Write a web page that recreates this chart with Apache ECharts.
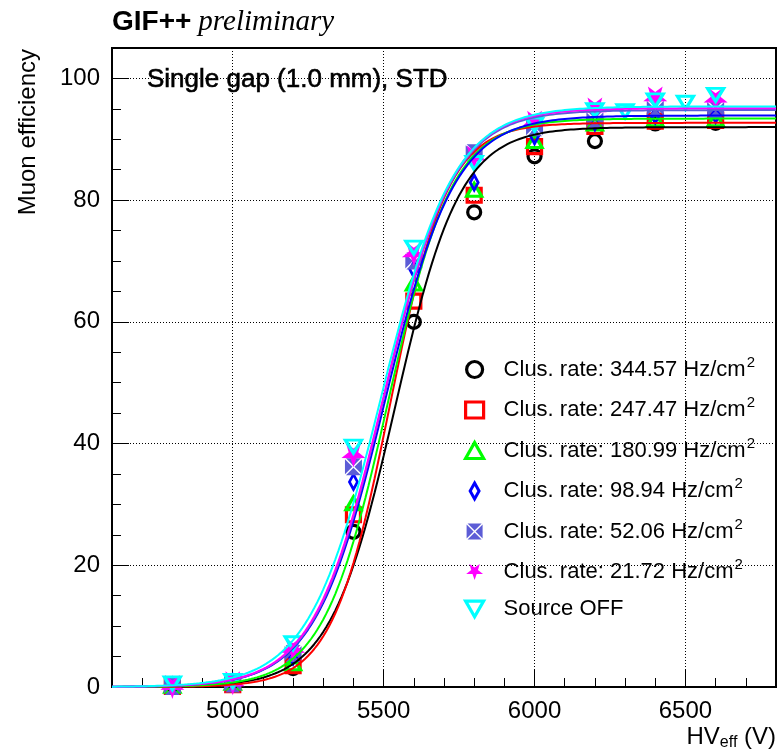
<!DOCTYPE html>
<html>
<head>
<meta charset="utf-8">
<script src="https://cdn.jsdelivr.net/npm/echarts@6/dist/echarts.min.js"></script>
<style>
  html, body { margin: 0; padding: 0; background: #fff; }
  #chart { width: 779px; height: 753px; }
</style>
</head>
<body>
<div id="chart"></div>
<script>
// HV points (V)
var hv = [4800, 5000, 5200, 5400, 5600, 5800, 6000, 6200, 6400, 6600];
var hvOff = [4800, 5000, 5200, 5400, 5600, 5800, 6000, 6200, 6300, 6400, 6500, 6600];

// muon efficiency (%)
var eff344 = [0.1, 0.6, 3.1, 25.5, 60.0, 78.0, 87.2, 89.7, 92.6, 92.7];
var eff247 = [0.1, 0.4, 3.5, 28.3, 63.4, 80.8, 88.8, 92.1, 93.0, 93.1];
var eff181 = [0.2, 0.7, 3.9, 30.2, 66.3, 81.7, 89.7, 92.6, 93.3, 93.3];
var eff99  = [0.2, 0.8, 5.0, 33.7, 68.6, 82.9, 90.5, 92.8, 93.9, 94.0];
var eff52  = [0.1, 0.5, 5.5, 36.2, 70.0, 87.8, 91.9, 93.2, 95.1, 94.9];
var eff22  = [0.0, 0.6, 6.1, 38.1, 71.1, 87.0, 92.7, 94.9, 96.7, 96.5];
var effOff = [0.6, 1.0, 7.2, 39.5, 72.2, 86.1, 92.4, 94.8, 94.6, 96.4, 96.0, 97.3];

var names = ['Clus. rate: 344.57 Hz/cm\u00b2', 'Clus. rate: 247.47 Hz/cm\u00b2',
  'Clus. rate: 180.99 Hz/cm\u00b2', 'Clus. rate: 98.94 Hz/cm\u00b2',
  'Clus. rate: 52.06 Hz/cm\u00b2', 'Clus. rate: 21.72 Hz/cm\u00b2', 'Source OFF'];

// sigmoid fit parameters: Emax / (1 + exp(-lambda (HV - HV50)))
var fitEmax   = [92.0, 92.7, 93.4, 93.9, 94.8, 95.1, 95.4];
var fitHV50   = [5538, 5521, 5514, 5504, 5500, 5499, 5492];
var fitLambda = [0.0093, 0.01047, 0.00936, 0.00861, 0.00869, 0.00863, 0.00833];

var colors = ['#000000', '#ff0000', '#00ff00', '#0000ff', '#5c5cd6', '#ff00ff', '#00ffff'];

var starPath = 'path://M10,20 L7.65,13.24 L0.49,13.09 L6.2,8.76 L4.12,1.91 L10,6 L15.88,1.91 L13.8,8.76 L19.51,13.09 L12.35,13.24 Z';
var boxXPath = 'path://M0.6,0 L9.4,0 L5,4.4 Z M10,0.6 L10,9.4 L5.6,5 Z M0.6,10 L9.4,10 L5,5.6 Z M0,0.6 L0,9.4 L4.4,5 Z';
var downTri = 'path://M0,0 L10,0 L5,8.7 Z';
var diamondPath = 'path://M5,0 L10,9 L5,18 L0,9 Z';

var markers = [
  { symbol: 'circle', size: 13, fill: 'transparent', bw: 3.2 },
  { symbol: 'rect', size: 14, fill: 'transparent', bw: 3.2 },
  { symbol: 'triangle', size: [15, 13], fill: 'transparent', bw: 3.2 },
  { symbol: diamondPath, size: [8, 15], fill: 'transparent', bw: 3 },
  { symbol: boxXPath, size: 17, fill: colors[4], bw: 0 },
  { symbol: starPath, size: 24, fill: colors[5], bw: 0 },
  { symbol: downTri, size: [16, 13], fill: 'transparent', bw: 3.2 }
];

var xs = [hv, hv, hv, hv, hv, hv, hvOff];
var ys = [eff344, eff247, eff181, eff99, eff52, eff22, effOff];

function fitCurve(i) {
  var pts = [];
  for (var v = 4600; v <= 6800; v += 10) {
    pts.push([v, fitEmax[i] / (1 + Math.exp(-fitLambda[i] * (v - fitHV50[i])))]);
  }
  return pts;
}

var series = [];
for (var i = 0; i < names.length; i++) {
  series.push({
    name: names[i],
    type: 'scatter',
    clip: false,
    symbol: markers[i].symbol,
    symbolSize: markers[i].size,
    itemStyle: {
      color: markers[i].fill,
      borderColor: colors[i],
      borderWidth: markers[i].bw,
      opacity: 1
    },
    data: xs[i].map(function (x, k) { return [x, this[k]]; }, ys[i])
  });
  series.push({
    name: 'fit ' + i,
    type: 'line',
    silent: true,
    symbol: 'none',
    lineStyle: { color: colors[i], width: 2 },
    data: fitCurve(i)
  });
}

var chart = echarts.init(document.getElementById('chart'), null, { renderer: 'canvas' });
var font = 'Liberation Sans, Arial, Helvetica, sans-serif';

chart.setOption({
  animation: false,
  backgroundColor: '#fff',
  grid: {
    left: 112, right: 3, top: 48, bottom: 66,
    show: true, borderColor: '#000', borderWidth: 2,
    outerBoundsMode: 'none'
  },
  xAxis: {
    type: 'value',
    min: 4600, max: 6800, splitNumber: 4,
    axisLine: { show: true, onZero: false, lineStyle: { color: '#000', width: 2 } },
    axisTick: { show: true, inside: true, length: 18, lineStyle: { color: '#000', width: 1 } },
    minorTick: { show: true, splitNumber: 5, length: 9, lineStyle: { color: '#000', width: 1 } },
    splitLine: { show: true, lineStyle: { color: '#000', width: 1, type: [1, 2] } },
    axisLabel: {
      color: '#000', fontSize: 24, fontFamily: font, margin: 12,
      showMinLabel: false, showMaxLabel: false,
      formatter: function (v) { return String(v); }
    }
  },
  yAxis: {
    type: 'value',
    min: 0, max: 105, interval: 20,
    axisLine: { show: true, lineStyle: { color: '#000', width: 2 } },
    axisTick: { show: true, inside: true, length: 17, lineStyle: { color: '#000', width: 1 } },
    minorTick: { show: true, splitNumber: 4, length: 9, lineStyle: { color: '#000', width: 1 } },
    splitLine: { show: true, lineStyle: { color: '#000', width: 1, type: [1, 2] } },
    axisLabel: {
      color: '#000', fontSize: 24, fontFamily: font, margin: 12,
      showMaxLabel: false
    }
  },
  legend: {
    orient: 'vertical',
    left: 459, top: 350,
    itemWidth: 18, itemHeight: 16, itemGap: 15,
    selectedMode: false,
    data: names.map(function (n, i) {
      return {
        name: n,
        icon: markers[i].symbol,
        itemStyle: { color: markers[i].fill, borderColor: colors[i], borderWidth: markers[i].bw }
      };
    }),
    formatter: function (name) {
      var k = name.indexOf('\u00b2');
      if (k < 0) return '{a|' + name + '}';
      return '{a|' + name.slice(0, k) + '}{s|2}';
    },
    textStyle: {
      color: '#000', fontFamily: font, fontSize: 22,
      rich: {
        a: { color: '#000', fontFamily: font, fontSize: 22, padding: [0, 0, 0, 15] },
        s: { color: '#000', fontFamily: font, fontSize: 15, padding: [0, 0, 14, 1] }
      }
    }
  },
  graphic: [
    {
      type: 'text', left: 112, top: 8,
      style: {
        text: '{b|GIF++}{i|preliminary}',
        rich: {
          b: { fontFamily: font, fontWeight: 'bold', fontSize: 28, fill: '#000', padding: [0, 7, 0, 0] },
          i: { fontFamily: 'Liberation Serif, Times New Roman, serif', fontStyle: 'italic', fontSize: 29, fill: '#000' }
        }
      }
    },
    {
      type: 'text', x: 147, y: 80,
      style: {
        text: 'Single gap (1.0 mm), STD', fontFamily: font, fontSize: 26,
        fill: '#000', stroke: '#000', lineWidth: 0.6, verticalAlign: 'middle'
      }
    },
    {
      type: 'text', x: 28, y: 49, rotation: Math.PI / 2,
      style: { text: 'Muon efficiency', fontFamily: font, fontSize: 24, fill: '#000', align: 'right', verticalAlign: 'middle' }
    },
    {
      type: 'text', x: 776, y: 737,
      style: {
        text: '{a|HV}{s|eff}{a| (V)}',
        align: 'right', verticalAlign: 'middle',
        rich: {
          a: { fontFamily: font, fontSize: 24, fill: '#000' },
          s: { fontFamily: font, fontSize: 16, fill: '#000', padding: [12, 0, 0, 0] }
        }
      }
    }
  ],
  series: series
});
</script>
</body>
</html>
